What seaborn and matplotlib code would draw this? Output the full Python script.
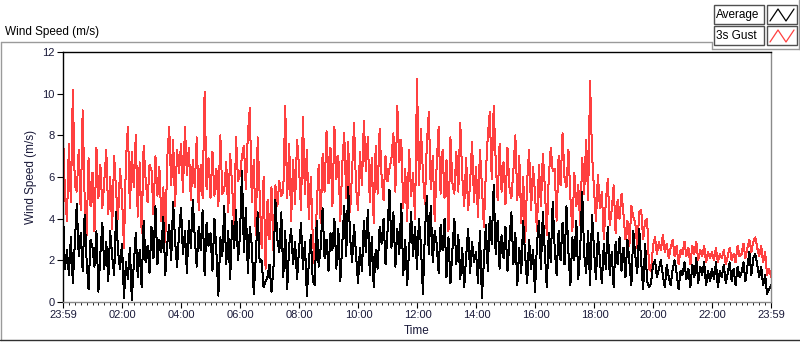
import numpy as np
import pandas as pd
import matplotlib
matplotlib.use('Agg')
import matplotlib.pyplot as plt
from matplotlib.lines import Line2D
from matplotlib.patches import Rectangle
import seaborn as sns

# 4-minute samples from 23:59 to 23:59 next day, 15 per hour
gust = [
    8.1, 5.2, 3.9, 7.6, 4.8, 10.2, 5.6, 5.3, 7.3, 4.4, 9.2, 5.0, 3.2, 6.9, 4.6,
    6.2, 3.4, 7.4, 5.0, 6.6, 4.5, 5.8, 7.3, 4.2, 6.0, 3.5, 7.0, 5.3, 4.0, 6.4,
    5.1, 2.6, 6.8, 8.4, 4.5, 7.2, 5.5, 8.0, 4.1, 6.7, 3.3, 7.5, 5.9, 4.8, 6.6,
    6.3, 4.2, 7.0, 5.1, 6.5, 3.9, 5.5, 2.9, 6.9, 8.4, 5.6, 7.8, 4.6, 7.3, 6.2,
    7.6, 5.3, 8.4, 6.1, 7.4, 4.9, 6.8, 5.5, 7.9, 4.4, 6.6, 5.0, 10.1, 5.4, 6.9,
    5.0, 7.2, 5.1, 6.4, 4.6, 8.0, 5.2, 5.4, 6.7, 4.3, 7.1, 5.6, 3.5, 7.9, 5.8,
    6.1, 7.0, 7.5, 5.4, 8.1, 9.3, 4.8, 6.8, 3.2, 7.9, 5.1, 2.6, 6.0, 1.6, 4.9,
    3.0, 5.5, 2.5, 5.6, 4.6, 5.8, 5.1, 5.3, 9.4, 5.0, 7.6, 3.9, 6.8, 4.7, 7.8,
    6.5, 4.4, 8.9, 5.2, 7.3, 4.0, 6.0, 3.1, 1.7, 4.5, 6.6, 3.8, 7.1, 5.3, 8.2,
    5.7, 7.4, 4.6, 8.4, 5.9, 7.0, 3.9, 6.6, 8.1, 5.0, 7.7, 4.3, 6.3, 8.6, 5.5,
    4.4, 7.2, 5.6, 8.7, 6.3, 7.9, 4.8, 6.9, 3.8, 7.5, 5.2, 8.3, 6.0, 4.9, 7.0,
    5.8, 6.4, 6.9, 8.1, 5.3, 9.4, 6.7, 7.8, 4.5, 6.4, 3.9, 7.3, 5.1, 6.2, 4.0,
    10.7, 5.6, 8.3, 6.2, 4.7, 7.6, 9.1, 5.4, 7.0, 3.9, 6.6, 8.4, 5.2, 7.3, 5.0,
    6.8, 3.4, 7.9, 5.7, 5.2, 7.2, 5.3, 8.6, 6.0, 4.6, 6.9, 4.4, 5.7, 7.7, 4.8,
    6.5, 4.1, 7.3, 5.6, 3.6, 6.2, 8.0, 9.1, 5.9, 9.4, 6.8, 4.9, 7.6, 5.3, 6.7,
    4.7, 7.4, 5.5, 5.0, 6.3, 8.0, 4.9, 7.0, 3.8, 6.0, 2.9, 5.8, 7.3, 4.4, 6.5,
    5.2, 3.4, 6.6, 4.6, 7.1, 5.5, 3.2, 6.0, 7.4, 6.3, 6.4, 3.9, 7.0, 5.6, 8.1,
    6.0, 5.5, 7.3, 5.0, 3.4, 6.2, 4.6, 5.6, 3.7, 6.9, 5.2, 7.8, 4.9, 10.6, 7.1,
    5.4, 3.9, 6.1, 4.5, 5.3, 3.0, 4.8, 5.9, 3.7, 4.4, 5.6, 3.3, 4.9, 4.0, 5.2,
    4.2, 3.0, 3.9, 2.7, 4.6, 4.1, 3.8, 2.6, 4.3, 4.4, 3.0, 3.9, 4.0, 1.6, 1.5,
    2.7, 3.1, 2.3, 2.9, 2.5, 3.2, 2.4, 2.8, 2.1, 2.6, 3.0, 2.2, 2.7, 1.8, 2.5,
    2.3, 2.9, 2.2, 2.6, 1.8, 2.7, 2.3, 2.9, 2.0, 2.5, 2.2, 2.7, 1.9, 2.4, 2.1,
    2.4, 2.0, 2.6, 1.9, 2.3, 2.1, 2.5, 1.8, 2.2, 2.6, 2.0, 2.3, 1.9, 2.7, 2.2,
    2.3, 2.8, 2.1, 2.6, 3.0, 2.4, 2.9, 3.1, 2.6, 2.2, 2.7, 1.9, 2.4, 1.3, 1.6,
    1.2,
]

average = [
    4.3, 1.6, 2.5, 1.3, 3.1, 0.9, 2.8, 4.7, 2.2, 3.3, 1.5, 4.2, 2.0, 0.6, 3.0,
    2.6, 1.7, 3.4, 0.5, 2.3, 3.8, 1.6, 2.9, 1.0, 3.4, 2.2, 1.3, 4.3, 2.4, 1.6,
    2.8, 0.2, 1.9, 1.1, 2.6, 0.1, 1.8, 3.3, 1.2, 2.5, 0.7, 3.9, 1.9, 2.7, 1.4,
    3.6, 2.1, 4.6, 1.8, 3.0, 2.4, 4.1, 1.3, 2.8, 3.7, 2.0, 4.8, 2.9, 1.7, 3.3,
    4.5, 2.3, 3.4, 1.4, 3.9, 2.6, 4.9, 3.1, 1.7, 3.6, 2.5, 4.4, 1.3, 3.8, 2.7,
    3.3, 1.5, 4.0, 2.4, 0.3, 3.1, 2.2, 4.6, 1.8, 3.4, 1.1, 3.9, 2.6, 4.4, 2.0,
    3.2, 6.3, 2.4, 4.5, 1.4, 3.6, 2.7, 0.4, 2.1, 4.3, 1.9, 2.0, 0.7, 1.0, 1.2,
    1.8, 0.5, 1.6, 4.9, 3.0, 2.4, 4.3, 1.2, 3.4, 0.6, 2.7, 3.5, 1.8, 2.9, 1.1,
    2.5, 3.8, 1.6, 2.9, 0.3, 1.9, 3.2, 1.0, 0.8, 3.9, 1.7, 2.6, 4.5, 2.1, 3.0,
    1.5, 3.3, 2.5, 4.0, 1.6, 3.5, 1.0, 2.8, 4.6, 2.2, 5.5, 3.1, 1.9, 3.7, 2.3,
    0.9, 2.6, 1.5, 3.9, 2.4, 4.4, 1.3, 3.1, 0.7, 2.5, 1.6, 3.6, 2.8, 4.0, 1.8,
    3.4, 5.4, 2.6, 4.3, 1.7, 3.5, 2.3, 4.7, 1.3, 3.0, 0.8, 2.6, 4.3, 2.2, 3.6,
    1.6, 4.0, 2.7, 0.4, 3.3, 5.1, 2.3, 4.6, 1.9, 3.4, 2.8, 1.4, 3.7, 2.5, 4.0,
    1.2, 3.1, 0.9, 2.5, 4.0, 1.8, 3.2, 1.1, 2.6, 0.7, 2.2, 3.5, 1.4, 2.9, 1.9,
    2.4, 0.9, 3.4, 0.2, 2.0, 3.7, 1.5, 4.1, 2.8, 5.6, 2.3, 3.9, 1.6, 3.2, 2.1,
    3.6, 1.5, 2.9, 4.3, 1.8, 3.3, 0.8, 2.6, 1.4, 3.9, 2.2, 0.9, 3.0, 1.6, 2.5,
    0.5, 2.8, 3.9, 1.6, 4.3, 2.4, 0.7, 3.3, 1.9, 4.8, 2.6, 1.3, 3.4, 2.0, 3.8,
    1.8, 4.6, 2.4, 0.8, 3.1, 2.0, 3.9, 1.1, 2.6, 5.3, 2.3, 1.4, 3.4, 0.8, 4.2,
    2.5, 1.1, 3.3, 2.0, 0.9, 2.8, 1.6, 3.6, 1.3, 2.4, 0.7, 2.9, 1.8, 3.1, 1.5,
    2.6, 1.2, 3.0, 1.9, 0.8, 3.4, 2.2, 1.4, 3.5, 1.9, 0.6, 2.8, 1.0, 0.7, 0.9,
    1.8, 2.0, 1.2, 1.6, 2.0, 1.3, 0.7, 1.8, 1.2, 0.8, 1.6, 2.0, 1.4, 0.6, 1.5,
    1.3, 1.9, 1.1, 1.6, 0.7, 1.8, 1.2, 2.1, 0.9, 1.7, 1.3, 1.9, 0.8, 1.5, 1.0,
    1.6, 1.1, 1.9, 0.7, 1.5, 1.2, 1.8, 0.9, 1.4, 1.9, 1.0, 1.6, 0.8, 1.7, 1.2,
    1.4, 1.9, 1.0, 1.7, 2.4, 1.3, 2.1, 2.3, 1.8, 1.2, 1.7, 0.8, 1.3, 0.4, 0.6,
    0.8,
]

tick_hours = [0, 2 + 1 / 60, 4 + 1 / 60, 6 + 1 / 60, 8 + 1 / 60, 10 + 1 / 60, 12 + 1 / 60,
              14 + 1 / 60, 16 + 1 / 60, 18 + 1 / 60, 20 + 1 / 60, 22 + 1 / 60, 24]
tick_labels = ['23:59', '02:00', '04:00', '06:00', '08:00', '10:00', '12:00',
               '14:00', '16:00', '18:00', '20:00', '22:00', '23:59']

df = pd.DataFrame({'hours': np.arange(len(gust)) * 4 / 60, 'gust': gust, 'avg': average})

sns.set_style('white')
plt.rcParams['font.family'] = ['Liberation Sans', 'DejaVu Sans']
text_col = '#1a1a3a'

fig = plt.figure(figsize=(8, 3.42), dpi=100)
W, H = 800, 342


def fx(px):
    return px / W


def fy(py):
    return 1 - py / H


ax = fig.add_axes([fx(63), fy(302), fx(771) - fx(63), fy(52) - fy(302)])

# 1 px wide, no antialiasing, like the instrument panel graph
sns.lineplot(data=df, x='hours', y='gust', color='#ff4040', linewidth=0.72,
             antialiased=False, ax=ax)
sns.lineplot(data=df, x='hours', y='avg', color='black', linewidth=0.72,
             antialiased=False, ax=ax)

ax.set_xlim(0, 24)
ax.set_ylim(0, 12)
ax.set_yticks(range(0, 13, 2))
ax.set_xticks(tick_hours)
ax.set_xticklabels(tick_labels)
ax.set_xticks(np.arange(0, 24.01, 0.2), minor=True)
ax.tick_params(axis='both', which='major', direction='out', length=4, width=0.8,
               labelsize=8, colors='black', labelcolor=text_col, pad=2,
               left=True, bottom=True)
ax.tick_params(axis='x', which='minor', direction='out', length=2, width=0.6,
               colors='black', bottom=True)
ax.set_xlabel('Time', fontsize=8.5, color=text_col, labelpad=3)
ax.set_ylabel('Wind Speed (m/s)', fontsize=8.5, color=text_col, labelpad=4)

for side in ['top', 'left']:
    ax.spines[side].set_color('black')
    ax.spines[side].set_linewidth(1.0)
for side in ['right', 'bottom']:
    ax.spines[side].set_color('#8a8a8a')
    ax.spines[side].set_linewidth(1.0)

# panel frame
gray = '#9a9a9a'
fig.add_artist(Line2D([fx(0.5), fx(712)], [fy(42), fy(42)], color=gray, lw=1))
fig.add_artist(Line2D([fx(712), fx(712)], [fy(42), fy(49)], color=gray, lw=1))
fig.add_artist(Line2D([fx(712), fx(800)], [fy(49), fy(49)], color=gray, lw=1))
fig.add_artist(Line2D([fx(0.5), fx(0.5)], [fy(42), fy(340)], color=gray, lw=1))
fig.add_artist(Line2D([fx(0), fx(800)], [fy(340), fy(340)], color='#303030', lw=1))
fig.add_artist(Line2D([fx(798.5), fx(798.5)], [fy(0), fy(49)], color=gray, lw=1))

fig.text(fx(5), fy(32), 'Wind Speed (m/s)', fontsize=8.5, color='black', va='center', ha='left')

# legend boxes
for i, (name, col) in enumerate([('Average', 'black'), ('3s Gust', '#ff4040')]):
    top = 5 + i * 21
    fig.add_artist(Rectangle((fx(714), fy(top + 19)), fx(764) - fx(714), fy(top) - fy(top + 19),
                             facecolor='white', edgecolor='#505050', lw=1))
    fig.add_artist(Rectangle((fx(767), fy(top + 19)), fx(797) - fx(767), fy(top) - fy(top + 19),
                             facecolor='white', edgecolor='#505050', lw=1))
    fig.text(fx(716), fy(top + 10), name, fontsize=8.5, color='black', va='center', ha='left')
    zx = [fx(770), fx(778), fx(786), fx(794)]
    zy = [fy(top + 16), fy(top + 4), fy(top + 16), fy(top + 4)]
    fig.add_artist(Line2D(zx, zy, color=col, lw=0.9))

fig.savefig('out.png', dpi=100)
